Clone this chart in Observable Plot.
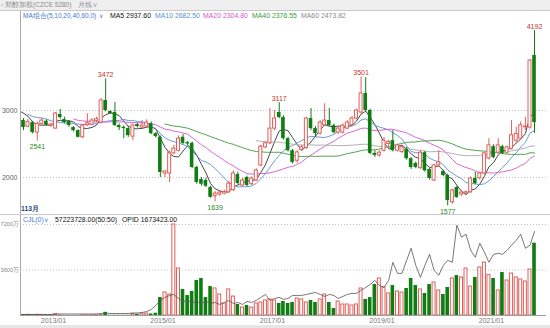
<!DOCTYPE html>
<html><head><meta charset="utf-8">
<script src="https://cdn.jsdelivr.net/npm/d3@7"></script>
<script src="https://cdn.jsdelivr.net/npm/@observablehq/plot@0.6"></script>
<style>
body{margin:0;background:#fff;}
#wrap{position:relative;width:550px;height:328px;overflow:hidden;background:#fff;font-family:"Liberation Sans",Arial,sans-serif;}
.t{position:absolute;font-size:6.9px;white-space:nowrap;line-height:1;}
.abs{position:absolute;}
svg{display:block}
</style></head><body><div id="wrap"></div>
<script>
// ---- data ----
const months = [
 "2012/06","2012/07","2012/08","2012/09","2012/10","2012/11","2012/12",
 "2013/01","2013/02","2013/03","2013/04","2013/05","2013/06","2013/07","2013/08","2013/09","2013/10","2013/11","2013/12",
 "2014/01","2014/02","2014/03","2014/04","2014/05","2014/06","2014/07","2014/08","2014/09","2014/10","2014/11","2014/12",
 "2015/01","2015/02","2015/03","2015/04","2015/05","2015/06","2015/07","2015/08","2015/09","2015/10","2015/11","2015/12",
 "2016/01","2016/02","2016/03","2016/04","2016/05","2016/06","2016/07","2016/08","2016/09","2016/10","2016/11","2016/12",
 "2017/01","2017/02","2017/03","2017/04","2017/05","2017/06","2017/07","2017/08","2017/09","2017/10","2017/11","2017/12",
 "2018/01","2018/02","2018/03","2018/04","2018/05","2018/06","2018/07","2018/08","2018/09","2018/10","2018/11","2018/12",
 "2019/01","2019/02","2019/03","2019/04","2019/05","2019/06","2019/07","2019/08","2019/09","2019/10","2019/11","2019/12",
 "2020/01","2020/02","2020/03","2020/04","2020/05","2020/06","2020/07","2020/08","2020/09","2020/10","2020/11","2020/12",
 "2021/01","2021/02","2021/03","2021/04","2021/05","2021/06","2021/07","2021/08","2021/09","2021/10"];
const open = [2851,2760,2820,2670,2800,2840,2770,2730,2940,2865, 2835,2745,2700,2600,2780,2790,2840,2820,3150,2985,
 2970,2775,2750,2730,2610,2790,2745,2760,2805,2655, 2600,2060,2060,2360,2400,2600,2520,2510,2150,1970,
 1955,1850,1720,1745,1760,1780,1810,2045,1880,2000, 1900,1955,2180,2450,2510,2730,2970,2895,2580,2400,
 2250,2410,2440,2880,2730,2655,2780,2850,2775,2670, 2670,2730,2780,2880,2970,3255,3000,2360,2330,2400,
 2500,2550,2400,2380,2420,2280,2210,2140,2370,2120, 1955,2180,2090,2030,1630,1850,1745,1760,1780,1985,
 1990,2060,2285,2460,2370,2460,2370,2430,2550,2580, 2750,2745,3820];
const high = [2880,2870,2840,2830,2880,2860,2810,2970,3015,2900, 2850,2760,2710,2790,2950,2880,2900,3180,3472,3000,
 3120,2800,2770,2760,2800,2810,2850,2860,2830,2670, 2620,2100,2400,2480,2620,2640,2540,2530,2170,2000,
 1990,1870,1790,1800,1810,1940,2100,2080,1990,2020, 2010,2130,2480,2530,3030,3000,3117,2920,2600,2420,
 2400,2480,2900,3030,2760,2850,3100,3030,2800,2750, 2800,2850,2910,3020,3501,3490,3020,2400,2400,2600,
 2560,2700,2500,2480,2450,2300,2230,2400,2390,2140, 2200,2400,2110,2050,1830,1870,1800,1800,2010,2075,
 2080,2380,2580,2490,2580,2480,2470,2850,2750,2830, 2900,3760,4192];
const low = [2700,2740,2650,2541,2780,2760,2750,2720,2870,2800, 2750,2680,2590,2580,2760,2770,2820,2800,2980,2940,
 2760,2700,2580,2600,2550,2740,2730,2740,2640,2590, 2000,2000,1925,2340,2380,2490,2470,2130,1900,1870,
 1850,1690,1639,1720,1740,1760,1790,1890,1860,1860, 1880,1940,2160,2430,2490,2700,2880,2560,2380,2200,
 2210,2390,2420,2700,2600,2630,2760,2760,2650,2640, 2650,2710,2760,2860,2950,2980,2340,2300,2300,2380,
 2450,2380,2380,2360,2260,2120,2130,2120,2080,1960, 1940,2160,2010,1577,1600,1690,1720,1740,1760,1890,
 1960,2040,2260,2280,2350,2340,2350,2410,2520,2560, 2700,2720,2660];
const close = [2746,2830,2670,2800,2850,2780,2790,2955,2895,2820, 2775,2700,2600,2775,2810,2850,2870,3150,3000,2955,
 2775,2745,2730,2625,2775,2760,2775,2820,2655,2610, 2075,2090,2360,2430,2580,2510,2500,2150,1925,1900,
 1870,1705,1760,1775,1785,1910,2060,1910,1955,1880, 1985,2105,2460,2510,2730,2880,2895,2580,2400,2225,
 2375,2450,2880,2730,2655,2820,2850,2775,2670,2730, 2775,2820,2880,3000,3255,3000,2360,2330,2370,2550,
 2530,2400,2480,2450,2280,2150,2150,2370,2100,1985, 2180,2225,2030,1657,1806,1700,1775,1780,1985,1910,
 2060,2360,2480,2300,2480,2360,2450,2630,2650,2780, 2760,3746,2820];
// monthly volume, 万手
const volume = [80,60,70,60,50,60,40,100,30,10, 10,10,10,10,10,15,20,30,250,20,
 20,20,20,20,120,100,150,160,120,180, 1420,1820,1660,7200,3720,2060,1580,1900,2770,2930,
 1420,2290,2140,1660,950,2060,1500,870,630,790, 630,950,1030,1190,1270,1190,950,1110,950,1030,
 1340,1270,1030,1190,1030,1270,1660,1030,550,1110, 870,870,790,870,2140,1270,1420,2450,2930,2220,
 1740,2370,1900,1820,2140,2930,2370,2060,1740,2450, 2610,1980,1660,2220,2930,3160,3010,3720,2290,3010,
 3800,4190,3200,2930,1980,3400,2770,3320,3010,2850, 2690,3640,5722];
// open interest, 万手
const opid = [2,2,2,2,2,2,2,3,3,3, 3,3,3,3,3,3,3,4,5,4,
 4,4,4,4,5,5,6,8,12,20, 30,36,40,42,34,28,30,26,28,24,
 28,24,26,22,26,30,24,26,22,28, 26,30,36,42,30,34,36,32,34,40,
 40,40,42,44,46,42,38,42,40,34, 38,42,44,44,50,56,62,70,60,56,
 70,106,84,84,110,134,100,76,100,122, 90,80,100,110,106,180,156,162,130,116,
 144,126,106,122,124,122,130,140,150,162, 134,140,167.3];
// months before the visible window (only feed the moving averages)
const preMonths = ["2011/10","2011/11","2011/12","2012/01","2012/02","2012/03","2012/04","2012/05"];
const preClose = [3000,2950,2900,2950,3050,3100,3000,2900];

const maPeriods = [5,10,20,40,60];
const maColors = ["#333333","#5b8fd0","#d855d0","#3c9a3c","#a8a8a8"];
const maLegend = ["MA5 2937.60","MA10 2682.50","MA20 2304.80","MA40 2376.55","MA60 2473.82"];
const labelMonths = ["2012/09","2013/12","2015/12","2017/02","2018/08","2020/03","2021/10"];
const labelKinds  = ["low","high","low","high","high","low","high"];
const priceTicks = [2000,3000];
const volTicks = [3600,7200];
const xTickMonths = ["2013/01","2015/01","2017/01","2019/01","2021/01"];

// ---- build ----
const FONT = '"Liberation Sans",Arial,sans-serif';
const RED = "#df5f5a", GREEN = "#0f7d12";
const parse = d3.utcParse("%Y/%m");
const mid = s => d3.utcDay.offset(parse(s), 14);
const rows = months.map((m,i)=>({m, date: mid(m), open: open[i], high: high[i], low: low[i], close: close[i], vol: volume[i], opid: opid[i], up: close[i] >= open[i]}));
const ups = rows.filter(d=>d.up), downs = rows.filter(d=>!d.up);
const maRows = preMonths.map((m,i)=>({date: mid(m), close: preClose[i]})).concat(rows.map(d=>({date:d.date, close:d.close})));
const labels = labelMonths.map((m,i)=>{const r = rows.find(d=>d.m===m); return {date:r.date, kind:labelKinds[i], v: labelKinds[i]==="high"? r.high : r.low};});
const xDomain = [new Date(Date.UTC(2012,4,26)), new Date(Date.UTC(2022,0,3))];
const rx1 = d=>d3.utcDay.offset(d.date,-10), rx2 = d=>d3.utcDay.offset(d.date,10);
const gx1 = d=>d3.utcDay.offset(d.date,-12), gx2 = d=>d3.utcDay.offset(d.date,12);
const K = 39.7; // open-interest drawing factor

const maMarks = maPeriods.map((k,j)=>Plot.lineY(maRows, Plot.windowY(
  {k, anchor:"end", reduce: v => v.length < k ? NaN : d3.mean(v)},
  {x:"date", y:"close", stroke: maColors[j], strokeWidth: 0.9, clip: true})));

const price = Plot.plot({
  width: 550, height: 194, marginLeft: 20, marginRight: 4, marginTop: 0, marginBottom: 0,
  style: {fontFamily: FONT, fontSize: "7px", background: "transparent", color: "#666", overflow: "visible"},
  x: {type:"utc", domain: xDomain, axis: null},
  y: {domain:[1448,4343], ticks: priceTicks, tickSize: 0, tickPadding: 3, tickFormat: d=>String(d), label: null},
  marks: [
    Plot.ruleY(priceTicks, {stroke:"#c4c4c4", strokeDasharray:"1,2"}),
    ...maMarks,
    Plot.ruleX(ups, {x:"date", y1:"low", y2:"high", stroke: RED, strokeWidth: 1}),
    Plot.ruleX(downs, {x:"date", y1:"low", y2:"high", stroke: GREEN, strokeWidth: 1}),
    Plot.rect(downs, {x1: gx1, x2: gx2, y1:"open", y2:"close", fill: GREEN}),
    Plot.rect(ups, {x1: rx1, x2: rx2, y1:"open", y2:"close", fill:"white", stroke: RED, strokeWidth: 1}),
    Plot.text(labels.filter(d=>d.kind==="high"), {x:"date", y:"v", text: d=>String(d.v), fill:"#c8302c", lineAnchor:"bottom", dy:-2, fontSize: 7}),
    Plot.text(labels.filter(d=>d.kind==="low"), {x:"date", y:"v", text: d=>String(d.v), fill:"#1f8a25", lineAnchor:"top", dy:3, fontSize: 7})
  ]
});

const vol = Plot.plot({
  width: 550, height: 113, marginLeft: 20, marginRight: 4, marginTop: 9, marginBottom: 13,
  style: {fontFamily: FONT, fontSize: "7px", background: "transparent", color: "#777", overflow: "visible"},
  x: {type:"utc", domain: xDomain, ticks: xTickMonths.map(parse), tickFormat: d3.utcFormat("%Y/%m"), tickSize: 0, tickPadding: 3, label: null},
  y: {axis: null, domain:[0,7200]},
  marks: [
    Plot.ruleY(volTicks, {stroke:"#c4c4c4", strokeDasharray:"1,2"}),
    Plot.text(volTicks, {x: xDomain[0], y: d=>d, text: d=>d+"万", textAnchor:"end", dx:-1.5, fontSize: 5.6, fill:"#888"}),
    Plot.rectY(downs, {x1: gx1, x2: gx2, y:"vol", fill: GREEN}),
    Plot.rectY(ups, {x1: rx1, x2: rx2, y:"vol", fill:"white", stroke: RED, strokeWidth: 1}),
    Plot.lineY(rows, {x:"date", y: d=>d.opid*K, stroke:"#555", strokeWidth: 0.8}),
    Plot.ruleY([0], {stroke:"#a0a0a0"})
  ]
});

// ---- layout ----
const wrap = document.getElementById("wrap");
function box(css){const d=document.createElement("div"); d.className="abs"; d.style.cssText=css; wrap.appendChild(d); return d;}
function txt(s,left,top,color,extra=""){const d=document.createElement("div"); d.className="t"; d.textContent=s; d.style.cssText=`left:${left}px;top:${top}px;color:${color};${extra}`; wrap.appendChild(d); return d;}

box("left:0;top:0;width:550px;height:10px;background:#efefef;border-bottom:1px solid #c9c9c9;");
txt("▫ 郑醇加权(CZCE 5280)", 1, 2, "#8a8a8a", "font-size:6.5px;");
txt("月线∨", 78, 2, "#8a8a8a", "font-size:6.5px;");

const ps = document.createElement("div"); ps.className="abs"; ps.style.cssText="left:0;top:20px;"; ps.appendChild(price); wrap.appendChild(ps);
const vs = document.createElement("div"); vs.className="abs"; vs.style.cssText="left:0;top:215px;"; vs.appendChild(vol); wrap.appendChild(vs);

box("left:20px;top:11px;width:1px;height:304px;background:#a8a8a8;");
box("left:0;top:214px;width:550px;height:1px;background:#c9c9c9;");
box("left:0;top:325px;width:550px;height:3px;background:#e6e6e6;");

txt("MA组合(5,10,20,40,60,0)", 23, 12.5, "#4a78c8", "font-size:6.5px;");
txt("∨", 99, 12.5, "#4a78c8", "font-size:6px;");
const legLeft = [110,155,203,252,301];
maLegend.forEach((s,j)=>txt(s, legLeft[j], 12.5, j===0?"#111":maColors[j]==="#a8a8a8"?"#8a8a8a":maColors[j]));
txt("113月", 21, 206, "#2b3f73", "font-weight:bold;font-size:6.8px;");
txt("CJL(0)", 23, 217, "#4a78c8");
txt("∨", 44, 217, "#4a78c8", "font-size:6px;");
txt("57223728.00(50:50)", 55, 217, "#111");
txt("OPID 1673423.00", 122, 217, "#111");
</script></body></html>
